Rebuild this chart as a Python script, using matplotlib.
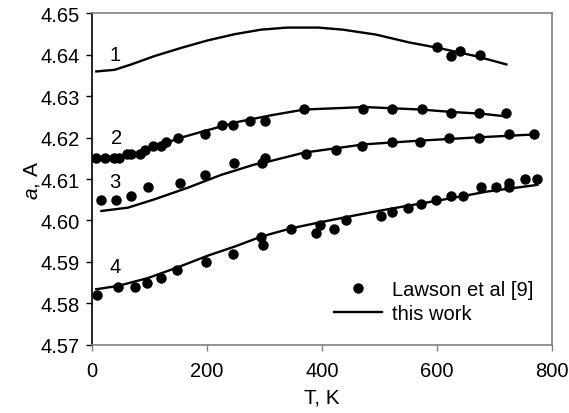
import matplotlib
matplotlib.use('Agg')
import matplotlib.pyplot as plt

plt.rcParams['font.family'] = ['Liberation Sans', 'DejaVu Sans']
plt.rcParams['mathtext.fontset'] = 'custom'
plt.rcParams['mathtext.it'] = 'Liberation Sans:italic'
plt.rcParams['mathtext.rm'] = 'Liberation Sans'

# Lawson et al [9] data points
t1 = [601, 624, 641, 675]
a1 = [4.6418, 4.6398, 4.6409, 4.6399]

t2 = [6, 22, 37, 47, 60, 68, 83, 92, 105, 119, 128, 150, 196, 225, 245, 274, 301,
      368, 472, 522, 575, 625, 674, 721]
a2 = [4.615, 4.615, 4.615, 4.615, 4.616, 4.616, 4.616, 4.617, 4.618, 4.618, 4.619,
      4.620, 4.621, 4.623, 4.623, 4.624, 4.624, 4.627, 4.627, 4.627, 4.627, 4.626,
      4.626, 4.626]

t3 = [15, 41, 68, 97, 152, 196, 246, 295, 301, 373, 424, 470, 522, 570, 621, 673,
      726, 769]
a3 = [4.605, 4.605, 4.606, 4.608, 4.609, 4.611, 4.614, 4.6138, 4.615, 4.616, 4.617,
      4.618, 4.619, 4.619, 4.620, 4.620, 4.621, 4.621]

t4 = [9, 45, 74, 96, 119, 147, 198, 245, 293, 297, 346, 390, 396, 421, 442, 503,
      522, 550, 572, 599, 625, 645, 677, 703, 725, 725, 754, 775]
a4 = [4.582, 4.584, 4.584, 4.585, 4.586, 4.588, 4.590, 4.592, 4.596, 4.594, 4.598,
      4.597, 4.599, 4.598, 4.600, 4.601, 4.602, 4.603, 4.604, 4.605, 4.606, 4.606,
      4.608, 4.608, 4.608, 4.609, 4.610, 4.610]

# "this work" curves
ct1 = [7, 39, 68, 108, 155, 201, 248, 294, 340, 379, 393, 436, 494, 552, 602, 668, 721]
ca1 = [4.6360, 4.6364, 4.6377, 4.6397, 4.6417, 4.6435, 4.6450, 4.6461, 4.6466,
       4.6466, 4.6466, 4.6461, 4.6449, 4.6430, 4.6417, 4.6397, 4.6377]

ct2 = [4, 50, 82, 108, 149, 195, 253, 311, 369, 474, 572, 627, 677, 717]
ca2 = [4.6148, 4.6150, 4.6160, 4.6176, 4.6198, 4.6216, 4.6238, 4.6254, 4.6268,
       4.6274, 4.6268, 4.6262, 4.6258, 4.6252]

ct3 = [16, 62, 108, 166, 224, 282, 300, 369, 474, 572, 674, 772]
ca3 = [4.6023, 4.6031, 4.6051, 4.6079, 4.6110, 4.6135, 4.6140, 4.6164, 4.6184,
       4.6193, 4.6201, 4.6208]

ct4 = [7, 45, 97, 149, 201, 248, 294, 346, 398, 456, 514, 572, 630, 688, 775]
ca4 = [4.5834, 4.5842, 4.5861, 4.5887, 4.5915, 4.5937, 4.5961, 4.5981, 4.5996,
       4.6012, 4.6027, 4.6041, 4.6055, 4.6070, 4.6086]

labels = ['1', '2', '3', '4']
label_x = [40, 42, 40, 40]
label_y = [4.6402, 4.6200, 4.6094, 4.5889]

fig = plt.figure(figsize=(5.69, 4.14), dpi=100)
ax = fig.add_axes([0.1622, 0.165, 0.8074, 0.80])

first = True
for tx, ay in [(t1, a1), (t2, a2), (t3, a3), (t4, a4)]:
    ax.plot(tx, ay, 'o', color='black', markersize=6.5,
            label='Lawson et al [9]' if first else None)
    first = False

first = True
for tx, ay in [(ct1, ca1), (ct2, ca2), (ct3, ca3), (ct4, ca4)]:
    ax.plot(tx, ay, '-', color='black', linewidth=1.7,
            label='this work' if first else None, solid_joinstyle='round')
    first = False

for lab, x, y in zip(labels, label_x, label_y):
    ax.text(x, y, lab, fontsize=14.5, ha='center', va='center')

ax.set_xlim(0, 800)
ax.set_ylim(4.57, 4.65)
ax.set_xticks([0, 200, 400, 600, 800])
ax.set_yticks([4.57, 4.58, 4.59, 4.60, 4.61, 4.62, 4.63, 4.64, 4.65])
ax.set_yticklabels(['%.2f' % v for v in ax.get_yticks()])
ax.tick_params(labelsize=14.5, length=4, width=1, direction='out', pad=5)
ax.tick_params(axis='x', color='#808080', pad=8)

for s in ['top', 'right', 'bottom']:
    ax.spines[s].set_color('#808080')
ax.spines['left'].set_color('black')
for s in ax.spines.values():
    s.set_linewidth(1.2)

ax.set_xlabel('T, K', fontsize=15, labelpad=5)
ax.set_ylabel(r'$a$, A', fontsize=15, labelpad=-1)

ax.legend(loc='lower right', frameon=False, fontsize=14.5, handlelength=2.4,
          handletextpad=0.5, labelspacing=0.25, bbox_to_anchor=(1.0, 0.01))

fig.savefig('out.png', dpi=100)
